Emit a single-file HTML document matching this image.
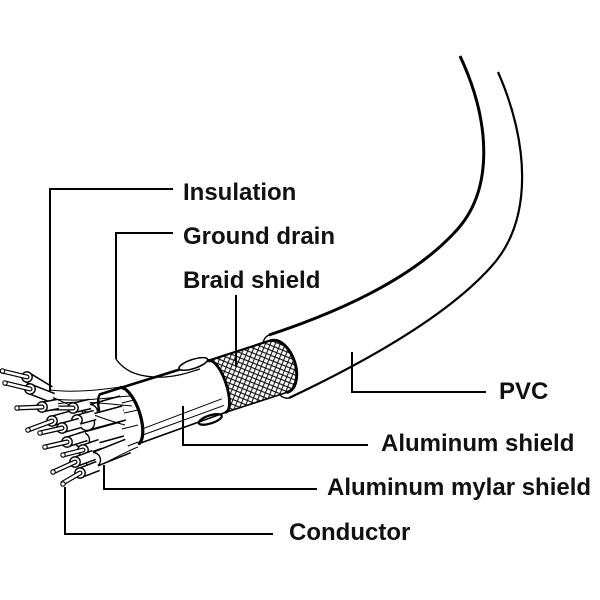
<!DOCTYPE html>
<html><head><meta charset="utf-8"><style>
html,body{margin:0;padding:0;background:#fff;}
svg{display:block}
.tb{stroke:#000;stroke-width:11;fill:none}
.tw{stroke:#fff;stroke-width:8;fill:none}
.bb{stroke:#000;stroke-width:16;fill:none}
.bw{stroke:#fff;stroke-width:13;fill:none}
.cb{stroke:#000;stroke-width:5;stroke-linecap:round;fill:none}
.cw{stroke:#fff;stroke-width:2.6;stroke-linecap:round;fill:none}
.e{fill:#fff;stroke:#000;stroke-width:1.4}
.t{fill:#fff;stroke:#000;stroke-width:1.1}
.f{fill:none;stroke:#000;stroke-width:1}
.lbl{font-family:"Liberation Sans",Arial,sans-serif;font-weight:bold;font-size:24px;fill:#111}
</style></head><body>
<svg width="600" height="600" viewBox="0 0 600 600" xmlns="http://www.w3.org/2000/svg">
<defs>
<pattern id="hatch" width="4.6" height="4.6" patternUnits="userSpaceOnUse" patternTransform="rotate(40)">
<path d="M0,2.3H4.6M2.3,0V4.6" stroke="#111" stroke-width="1.05" fill="none"/>
</pattern>
</defs>
<rect width="600" height="600" fill="#fff"/>

<!-- PVC jacket curves -->
<path d="M269,335 C360,305 420,270 455,232 C495,190 490,120 460,56" fill="none" stroke="#000" stroke-width="3"/>
<path d="M289,398 C380,355 450,312 490,268 C535,220 528,140 498,72" fill="none" stroke="#000" stroke-width="2.2"/>

<!-- cable body in local frame -->
<g transform="translate(130,415) rotate(-18)" fill="none" stroke="#000" stroke-linecap="round">
  <path d="M157,-33 A15,33 0 0,0 157,33" stroke-width="1.4"/>
  <path d="M-22,-29 L92,-28 L92,28 L0,30 Z" fill="#fff" stroke="none"/>
  <ellipse cx="75" cy="29" rx="12" ry="4" stroke-width="2.2" fill="#fff"/>
  <path d="M92,-27 A9,27 0 0,1 92,27 L157,27 A16,27 0 0,0 157,-27 Z" fill="#fff" stroke="none"/>
  <path d="M92,-27 A9,27 0 0,1 92,27 L157,27 A16,27 0 0,0 157,-27 Z" fill="url(#hatch)" stroke="none"/>
  <path d="M92,-27 A9,27 0 0,1 92,27" stroke-width="2.8"/>
  <path d="M157,27 A16,27 0 0,0 157,-27" stroke-width="3"/>
  <path d="M92,-27.5 L157,-27.5" stroke-width="2.2"/>
  <path d="M92,27 L157,27" stroke-width="1.6"/>
  <path d="M-22,-29 L92,-27.5" stroke-width="2.6"/>
  <path d="M0,30 L92,27" stroke-width="1.6"/>
  <path d="M8,17 L92,13" stroke-width="1"/>
  <path d="M6,23 L92,20" stroke-width="1"/>
  <ellipse cx="76" cy="-29" rx="15" ry="4.5" stroke-width="1.6" fill="#fff"/>
</g>

<!-- ground drain wire -->
<path d="M116,359 C125,372 140,378 165,377 C180,376 190,372 200,369" fill="none" stroke="#000" stroke-width="1.3"/>

<!-- bigger pair tubes -->
<path class="bb" d="M90,412 L122,403"/><path class="bw" d="M90,412 L122,403"/><circle class="e" cx="90" cy="412" r="7.5"/>
<path class="bb" d="M87,423 L124,413"/><path class="bw" d="M87,423 L124,413"/><circle class="e" cx="87" cy="423" r="7.5"/>
<path class="bb" d="M82,440 L122,429"/><path class="bw" d="M82,440 L122,429"/><circle class="e" cx="82" cy="440" r="7.5"/>
<path class="bb" d="M93,460 L128,446"/><path class="bw" d="M93,460 L128,446"/><circle class="e" cx="93" cy="460" r="7.5"/>

<!-- fan lines -->
<path class="f" d="M50,390 C75,393 100,390 128,386"/>
<path class="f" d="M52,399 C80,402 105,398 130,396"/>
<path class="f" d="M56,404 C80,400 110,404 132,406"/>
<path class="f" d="M122,403 L134,400"/>
<path class="f" d="M124,413 L138,410"/>
<path class="f" d="M122,429 L138,425"/>
<path class="f" d="M128,446 L138,442"/>
<path class="f" d="M98,466 C112,460 125,452 138,447"/>
<path class="f" d="M52,397 C80,410 105,420 125,425"/>

<!-- wires -->
<path class="tb" d="M27,377 L50,391"/><path class="tw" d="M27,377 L50,391"/><circle class="e" cx="27" cy="377" r="5.2"/>
<path class="cb" d="M2,371 L27,377"/><path class="cw" d="M2,371 L27,377"/><circle class="t" cx="2.5" cy="371" r="2.2"/>

<path class="tb" d="M30,389 L53,398"/><path class="tw" d="M30,389 L53,398"/><circle class="e" cx="30" cy="389" r="5.2"/>
<path class="cb" d="M5,383 L30,389"/><path class="cw" d="M5,383 L30,389"/><circle class="t" cx="5" cy="383" r="2.2"/>

<path class="tb" d="M73,408 L90,404"/><path class="tw" d="M73,408 L90,404"/><circle class="e" cx="73" cy="408" r="5.2"/>
<path class="cb" d="M52,408 L73,408"/><path class="cw" d="M52,408 L73,408"/><circle class="t" cx="52" cy="408" r="2.2"/>

<path class="tb" d="M42,407 L58,404"/><path class="tw" d="M42,407 L58,404"/><circle class="e" cx="42" cy="407" r="5.2"/>
<path class="cb" d="M17,408 L42,407"/><path class="cw" d="M17,408 L42,407"/><circle class="t" cx="17" cy="408" r="2.2"/>

<path class="tb" d="M77,420 L95,415"/><path class="tw" d="M77,420 L95,415"/><circle class="e" cx="77" cy="420" r="5.2"/>

<path class="tb" d="M52,421 L70,416"/><path class="tw" d="M52,421 L70,416"/><circle class="e" cx="52" cy="421" r="5.2"/>
<path class="cb" d="M28,430 L52,421"/><path class="cw" d="M28,430 L52,421"/><circle class="t" cx="28" cy="430" r="2.2"/>

<path class="tb" d="M62,428 L80,423"/><path class="tw" d="M62,428 L80,423"/><circle class="e" cx="62" cy="428" r="5.2"/>
<path class="cb" d="M40,433 L62,428"/><path class="cw" d="M40,433 L62,428"/><circle class="t" cx="40" cy="433" r="2.2"/>

<path class="tb" d="M67,442 L86,436"/><path class="tw" d="M67,442 L86,436"/><circle class="e" cx="67" cy="442" r="5.2"/>
<path class="cb" d="M45,447 L67,442"/><path class="cw" d="M45,447 L67,442"/><circle class="t" cx="45" cy="447" r="2.2"/>

<path class="tb" d="M83,450 L100,444"/><path class="tw" d="M83,450 L100,444"/><circle class="e" cx="83" cy="450" r="5.2"/>
<path class="cb" d="M63,455 L83,450"/><path class="cw" d="M63,455 L83,450"/><circle class="t" cx="63" cy="455" r="2.2"/>

<path class="tb" d="M75,462 L94,455"/><path class="tw" d="M75,462 L94,455"/><circle class="e" cx="75" cy="462" r="5.2"/>
<path class="cb" d="M53,472 L75,462"/><path class="cw" d="M53,472 L75,462"/><circle class="t" cx="53" cy="472" r="2.2"/>

<path class="tb" d="M80,473 L98,466"/><path class="tw" d="M80,473 L98,466"/><circle class="e" cx="80" cy="473" r="5.2"/>
<path class="cb" d="M63,483 L80,473"/><path class="cw" d="M63,483 L80,473"/><circle class="t" cx="63" cy="484" r="2.2"/>

<!-- foil end arc on top -->
<g transform="translate(130,415) rotate(-18)" fill="none" stroke="#000" stroke-linecap="round">
  <path d="M0,-29 A12,30 0 0,1 0,30" stroke-width="3.2"/>
  <path d="M-22,-29 A8,29 0 0,0 -28,-14" stroke-width="2.4"/>
</g>

<!-- leader lines -->
<g fill="none" stroke="#000" stroke-width="2">
  <path d="M173,189 H50 V391"/>
  <path d="M173,233 H116 V359"/>
  <path d="M236,295 V367"/>
  <path d="M486,392 H352 V352"/>
  <path d="M368,445 H183 V406"/>
  <path d="M317,489 H104 V465"/>
  <path d="M273,534 H65 V487"/>
</g>

<!-- labels -->
<text class="lbl" x="183" y="200">Insulation</text>
<text class="lbl" x="183" y="244">Ground drain</text>
<text class="lbl" x="183" y="288">Braid shield</text>
<text class="lbl" x="499" y="399">PVC</text>
<text class="lbl" x="381" y="451">Aluminum shield</text>
<text class="lbl" x="327" y="495">Aluminum mylar shield</text>
<text class="lbl" x="289" y="540">Conductor</text>
</svg>
</body></html>
